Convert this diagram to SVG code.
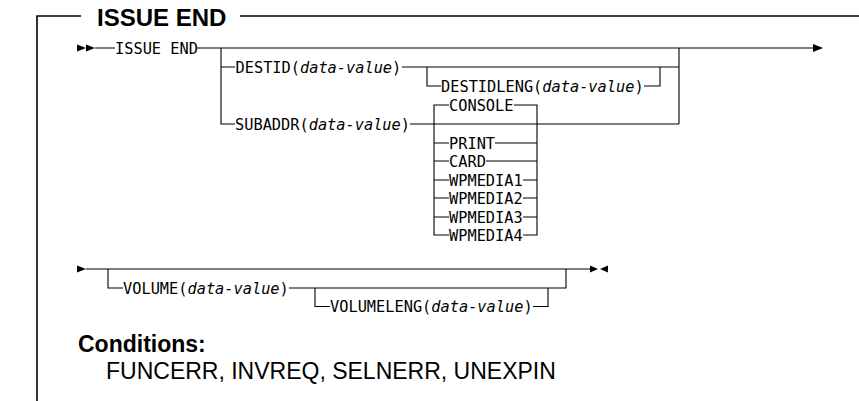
<svg xmlns="http://www.w3.org/2000/svg" width="859" height="401" viewBox="0 0 859 401">
<defs>
<style>
.ln{fill:none;stroke:#000;stroke-width:1.1}
.fr{fill:none;stroke:#000;stroke-width:1.6}
.ah{fill:#000;stroke:none}
.kw{font-family:"DejaVu Sans Mono","Liberation Mono",monospace;font-size:15.3px;fill:#000}
.kw tspan.v{font-style:italic}
.ttl{font-family:"Liberation Sans",Arial,sans-serif;font-weight:bold;font-size:24px;fill:#000}
.hd{font-family:"Liberation Sans",Arial,sans-serif;font-weight:bold;font-size:23px;fill:#000}
.cd{font-family:"Liberation Sans",Arial,sans-serif;font-size:23px;fill:#000}
</style>
</defs>
<rect width="859" height="401" fill="#fff"/>
<g id="frame">
<path class="fr" d="M37,401 V16 H81 M240,16 H859"/>
<text class="ttl" x="97" y="26">ISSUE END</text>
</g>
<g id="connectors">
<polygon class="ah" points="77,44.5 86,48 77,51.5"/>
<polygon class="ah" points="86,44.5 95,48 86,51.5"/>
<path class="ln" d="M95,48 H115 M197,48 H814"/>
<polygon class="ah" points="813,44 823,48 813,52"/>
<path class="ln" d="M221,48 V124 H235 M221,67 H235"/>
<path class="ln" d="M402,67 H679 M679,48 V124 M410,124 H679"/>
<path class="ln" d="M427,67 V86 H441 M644,86 H660 V67"/>
<path class="ln" d="M449,105 H434 V235 H449 M434,143 H449 M434,161 H449 M434,180 H449 M434,198 H449 M434,217 H449"/>
<path class="ln" d="M514,105 H537 V235 H523 M495,143 H537 M486,161 H537 M523,180 H537 M523,198 H537 M523,217 H537"/>
<polygon class="ah" points="77,265.5 86,269 77,272.5"/>
<path class="ln" d="M86,269 H591"/>
<polygon class="ah" points="590,265.5 598,269 590,272.5"/>
<polygon class="ah" points="608,265.5 600,269 608,272.5"/>
<path class="ln" d="M108,269 V288 H123 M289,288 H566 V269"/>
<path class="ln" d="M315,288 V306.5 H330 M533,306.5 H548 V288"/>
</g>
<g id="n-issue-end"><text class="kw" x="115" y="53.6">ISSUE END</text></g>
<g id="n-destid"><text class="kw" x="235.5" y="72.6">DESTID(<tspan class="v">data-value</tspan>)</text></g>
<g id="n-destidleng"><text class="kw" x="441" y="91.6">DESTIDLENG(<tspan class="v">data-value</tspan>)</text></g>
<g id="n-subaddr"><text class="kw" x="235" y="129.6">SUBADDR(<tspan class="v">data-value</tspan>)</text></g>
<g id="n-console"><text class="kw" x="449" y="110.6">CONSOLE</text></g>
<g id="n-print"><text class="kw" x="449" y="148.6">PRINT</text></g>
<g id="n-card"><text class="kw" x="449" y="166.6">CARD</text></g>
<g id="n-wpmedia1"><text class="kw" x="449" y="185.6">WPMEDIA1</text></g>
<g id="n-wpmedia2"><text class="kw" x="449" y="203.6">WPMEDIA2</text></g>
<g id="n-wpmedia3"><text class="kw" x="449" y="222.6">WPMEDIA3</text></g>
<g id="n-wpmedia4"><text class="kw" x="449" y="240.6">WPMEDIA4</text></g>
<g id="n-volume"><text class="kw" x="123" y="293.6">VOLUME(<tspan class="v">data-value</tspan>)</text></g>
<g id="n-volumeleng"><text class="kw" x="330" y="312.1">VOLUMELENG(<tspan class="v">data-value</tspan>)</text></g>
<g id="conditions">
<text class="hd" x="78" y="352">Conditions:</text>
<text class="cd" x="106" y="379">FUNCERR, INVREQ, SELNERR, UNEXPIN</text>
</g>
</svg>
